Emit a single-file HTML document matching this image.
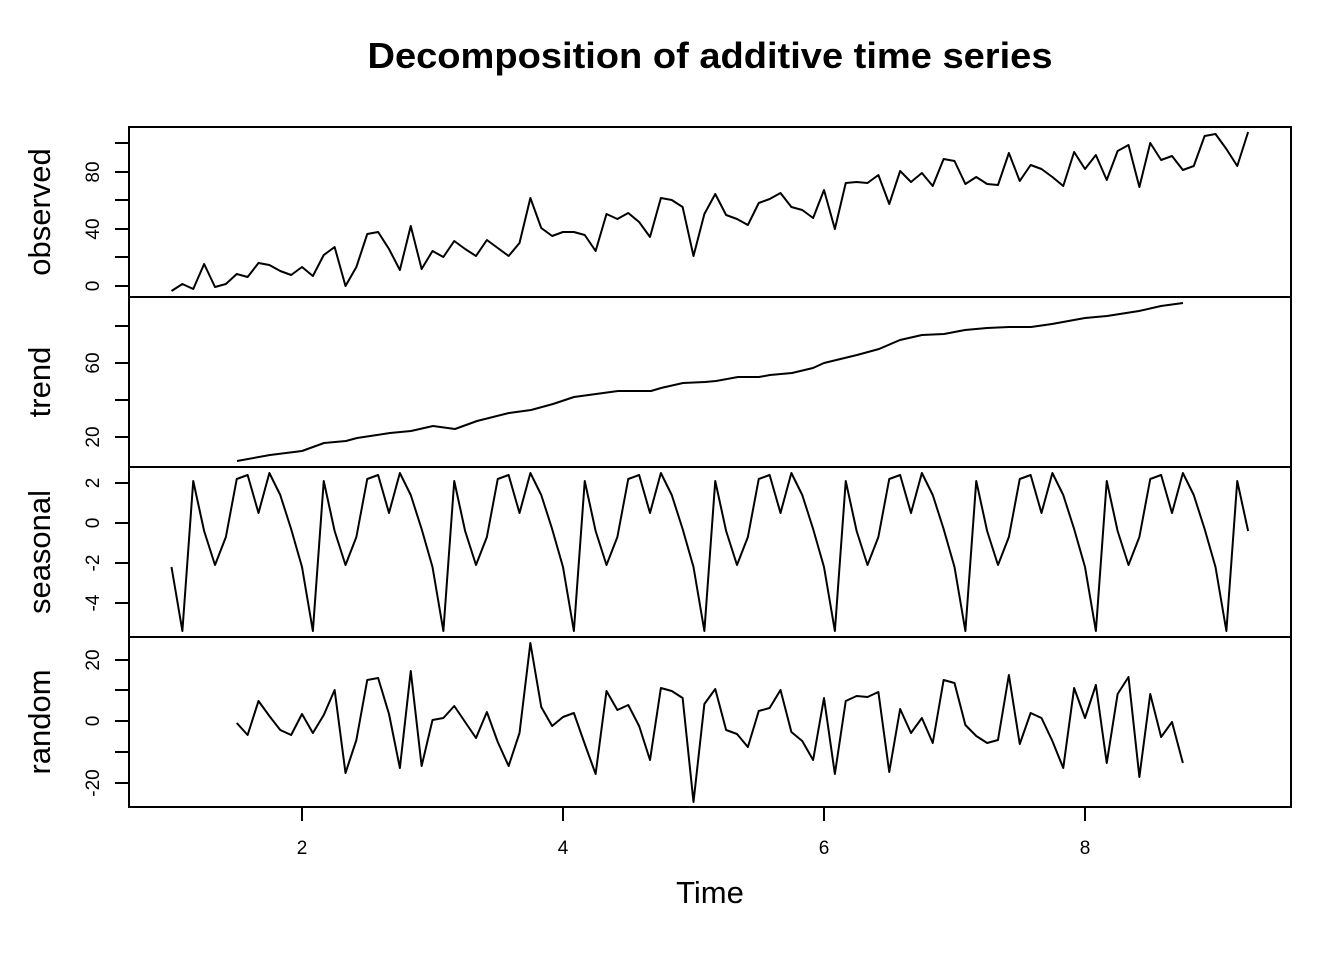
<!DOCTYPE html>
<html><head><meta charset="utf-8"><style>body{margin:0;background:#fff}svg{display:block}text{font-family:"Liberation Sans",sans-serif;fill:#000}</style></head>
<body>
<svg id="s" width="1344" height="960" viewBox="0 0 1344 960" xmlns="http://www.w3.org/2000/svg">
<text x="710" y="68" font-size="36" font-weight="bold" text-anchor="middle" textLength="685" lengthAdjust="spacingAndGlyphs">Decomposition of additive time series</text>
<g fill="none" stroke="#000" stroke-width="2">
<rect x="129" y="127" width="1162" height="680"/>
<line x1="129" y1="297" x2="1291" y2="297"/>
<line x1="129" y1="467" x2="1291" y2="467"/>
<line x1="129" y1="637" x2="1291" y2="637"/>
</g>
<g id="ticks" stroke="#000" stroke-width="2"></g>
<g id="labels" font-size="19"></g>
<text transform="translate(50,212) rotate(-90)" font-size="31" text-anchor="middle">observed</text>
<text transform="translate(50,382) rotate(-90)" font-size="31" text-anchor="middle">trend</text>
<text transform="translate(50,552) rotate(-90)" font-size="31" text-anchor="middle">seasonal</text>
<text transform="translate(50,722) rotate(-90)" font-size="31" text-anchor="middle">random</text>
<text x="710" y="903" font-size="31" text-anchor="middle">Time</text>
<g id="lines" fill="none" stroke="#000" stroke-width="2" stroke-linejoin="round"></g>
</svg>
<script>
var NS="http://www.w3.org/2000/svg";
function el(p,t,a,txt){var e=document.createElementNS(NS,t);for(var k in a)e.setAttribute(k,a[k]);if(txt!=null)e.textContent=txt;document.getElementById(p).appendChild(e);}
var yt=[[286,"0"],[257,""],[229,"40"],[200,""],[172,"80"],[143,""],
[437,"20"],[400,""],[363,"60"],[326,""],
[483,"2"],[523,"0"],[563,"-2"],[603,"-4"],
[783,"-20"],[752,""],[721,"0"],[690,""],[660,"20"]];
yt.forEach(function(t){el("ticks","line",{x1:115,y1:t[0],x2:129,y2:t[0]});
if(t[1])el("labels","text",{transform:"translate(99,"+t[0]+") rotate(-90)","text-anchor":"middle"},t[1]);});
[[302,"2"],[563,"4"],[824,"6"],[1085,"8"]].forEach(function(t){el("ticks","line",{x1:t[0],y1:807,x2:t[0],y2:821});
el("labels","text",{x:t[0],y:854,"text-anchor":"middle"},t[1]);});
function X(i){return 171.5+10.875*i;}
var obs=[291,284,289,264,287,284,274,277,263,265,271,275,267,276,255,247,286,267,234,232,249,270,226,269,251,257,241,249,256,240,248,256,243,198,228,236,232,232,235,251,214,219,213,222,237,198,200,207,256,214,194,215,219,225,203,199,193,207,210,218,190,229,183,182,183,175,204,171,182,173,186,159,161,184,177,184,185,153,181,165,169,177,186,152,169,155,180,151,145,187,143,160,156,170,166,136,134,149,166,132];
el("lines","polyline",{points:obs.map(function(y,i){return X(i)+","+y}).join(" ")});
var tr=[[237,461],[270,455],[302,451],[313,447],[324,443],[346,441],[357,438],[390,433],[411,431],[433,426],[455,429],[477,421],[509,413],[531,410],[553,404],[574,397],[596,394],[618,391],[651,391],[661,388],[683,383],[705,382],[716,381],[738,377],[759,377],[770,375],[792,373],[813,368],[824,363],[857,355],[879,349],[900,340],[922,335],[944,334],[965,330],[987,328],[1009,327],[1031,327],[1052,324],[1074,320],[1085,318],[1107,316],[1139,311],[1161,306],[1183,303]];
el("lines","polyline",{points:tr.map(function(p){return p.join(",")}).join(" ")});
var sp=[-2.2,-5.4,2.1,-0.4,-2.1,-0.7,2.2,2.4,0.5,2.5,1.4,-0.3];
var sv=[];for(var i=0;i<100;i++)sv.push(X(i)+","+(523-20*sp[i%12]));
el("lines","polyline",{points:sv.join(" ")});
var rd=[723,735,701,716,730,735,714,733,715,690,773,740,680,678,714,768,671,766,720,718,706,722,738,712,742,766,733,643,707,726,717,713,744,774,691,710,705,726,760,688,691,698,802,704,689,730,734,747,711,708,690,732,741,760,698,774,701,696,697,692,772,709,733,718,743,680,683,725,736,743,740,675,744,713,718,741,768,688,718,685,763,694,677,777,694,737,722,763];
el("lines","polyline",{points:rd.map(function(y,i){return X(i+6)+","+y}).join(" ")});
</script>
</body></html>
